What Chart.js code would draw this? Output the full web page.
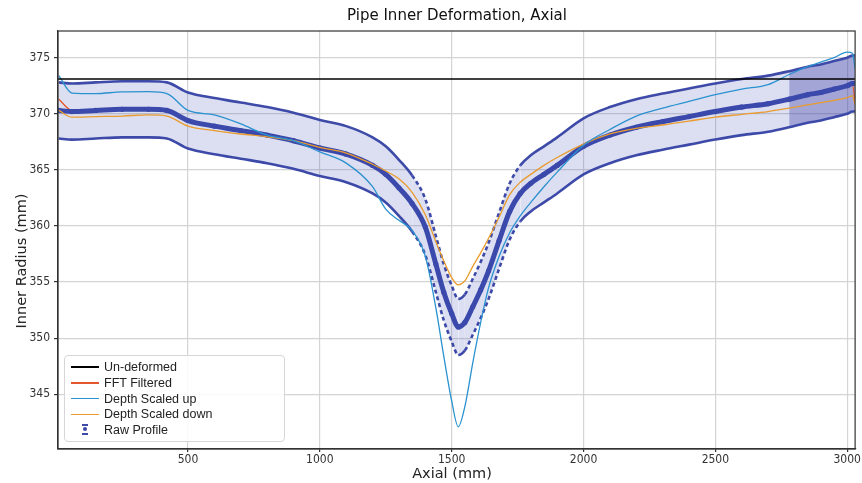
<!DOCTYPE html>
<html>
<head>
<meta charset="utf-8">
<script src="https://cdn.jsdelivr.net/npm/chart.js@4.4.1/dist/chart.umd.min.js"></script>
<style>
  html, body { margin: 0; padding: 0; background: #fff; }
  #wrap { position: relative; width: 862px; height: 483px; }
  #title { position: absolute; left: 58px; width: 798px; top: 6px; text-align: center;
           font: 15px "DejaVu Sans", sans-serif; color: #111; }
  .axt { position: absolute; font: 14.5px "DejaVu Sans", sans-serif; color: #222; white-space: nowrap; }
  #xt { left: 352px; width: 200px; top: 465px; text-align: center; line-height: 17px; }
  #yt { left: -79px; width: 200px; top: 253px; text-align: center; transform: rotate(-90deg); }
  #legend { position: absolute; left: 64px; top: 355px; width: 219px; height: 85px;
            border: 1px solid #d6d6d6; border-radius: 4px; background: rgba(255,255,255,0.85);
            font: 12.5px "Liberation Sans", Arial, sans-serif; color: #222; }
  .item { position: absolute; left: 6px; height: 16px; line-height: 16px; }
  .ln { position: absolute; left: 0; width: 28px; }
  .txt { position: absolute; left: 33px; top: 0; white-space: nowrap; }
  .eb { position: absolute; left: 11px; top: 0; width: 6px; height: 16px; }
  .eb i { position: absolute; display: block; }
</style>
</head>
<body>
<div id="wrap">
  <canvas id="chart" width="862" height="483"></canvas>
  <div id="title">Pipe Inner Deformation, Axial</div>
  <div id="xt" class="axt">Axial (mm)</div>
  <div id="yt" class="axt">Inner Radius (mm)</div>
  <div id="legend"></div>
</div>
<script>
// values (mm)
const axial = [10, 60, 150, 250, 350, 420, 500, 600, 700, 800, 900, 1000, 1100, 1200, 1250, 1300, 1350,
  1400, 1440, 1470, 1500, 1525, 1550, 1580, 1610, 1640, 1680, 1720, 1760, 1800, 1850, 1900, 2000,
  2100, 2200, 2300, 2400, 2500, 2600, 2700, 2780, 2850, 2900, 2950, 3000, 3020, 3030];

const rawProfile = [370.3, 370.2, 370.3, 370.4, 370.4, 370.3, 369.4, 368.9, 368.5, 368.1, 367.6, 366.95, 366.4,
  365.4, 364.6, 363.4, 362.0, 359.9, 356.6, 354.1, 352.2, 351.0, 351.4, 352.8, 354.3, 356.0, 358.7,
  361.3, 362.9, 363.8, 364.6, 365.4, 367.1, 368.1, 368.8, 369.3, 369.75, 370.2, 370.6, 370.9, 371.3,
  371.7, 371.9, 372.2, 372.5, 372.7, 372.7];

const fftFiltered = [371.3, 370.3, 370.3, 370.4, 370.4, 370.3, 369.4, 368.9, 368.5, 368.1, 367.6, 366.95, 366.4,
  365.4, 364.6, 363.4, 362.0, 359.9, 356.6, 354.1, 352.2, 350.9, 351.4, 352.8, 354.3, 356.0, 358.7,
  361.2, 362.8, 363.8, 364.6, 365.4, 367.1, 368.1, 368.8, 369.3, 369.75, 370.2, 370.6, 370.9, 371.3,
  371.7, 371.9, 372.2, 372.5, 372.6, 371.0];

const depthUp = [373.4, 371.85, 371.8, 371.95, 371.97, 371.8, 370.3, 369.9, 369.1, 368.1, 367.6, 366.6, 365.6,
  363.5, 361.5, 360.5, 359.6, 357.3, 352.7, 348.4, 344.4, 342.1, 343.9, 347.8, 351.4, 354.5, 357.3,
  359.4, 360.9, 362.1, 363.5, 364.8, 367.2, 368.6, 369.8, 370.5, 371.1, 371.7, 372.2, 372.6, 373.5,
  374.2, 374.6, 375.0, 375.5, 375.4, 374.0];

const depthDown = [370.3, 369.7, 369.75, 369.8, 369.9, 369.8, 368.9, 368.5, 368.2, 367.95, 367.6, 367.0, 366.5,
  365.5, 364.9, 364.2, 363.0, 361.0, 358.6, 356.9, 355.4, 354.75, 355.1, 356.4, 357.6, 358.9, 360.8,
  362.8, 363.9, 364.6, 365.4, 366.1, 367.3, 368.2, 368.7, 369.0, 369.35, 369.7, 369.95, 370.2, 370.5,
  370.8, 371.0, 371.2, 371.45, 371.6, 370.8];

const undeformedRadius = 373.1;
const errHalf = 2.5;          // error bar half-height of the raw profile
const denseFrom = 2780;       // darker error-bar region on the right
const xTicks = [500, 1000, 1500, 2000, 2500, 3000];
const yTicks = [345, 350, 355, 360, 365, 370, 375];
const xRange = [7, 3030];
const yRange = [340.12, 377.38];

const pts = arr => axial.map((x, i) => ({ x, y: arr[i] }));
const upperCap = rawProfile.map(v => v + errHalf);
const lowerCap = rawProfile.map(v => v - errHalf);
const densePts = arr => pts(arr).filter(p => p.x >= denseFrom);

const C_RAW = '#3a49ab', C_CAP = '#3d4aa8';
const C_FFT = '#e4572e', C_UP = '#2b92d0', C_DOWN = '#e99b2e';
const TICK_FONT = '"DejaVu Sans Condensed", "DejaVu Sans", sans-serif';

const steep = ctx => {
  const s = Math.abs(ctx.p1.parsed.y - ctx.p0.parsed.y) / (ctx.p1.parsed.x - ctx.p0.parsed.x);
  return s > 0.035 ? [4, 3] : undefined;
};

const line = (label, data, color, width, order, extra) => Object.assign({
  label, data, borderColor: color, borderWidth: width, order,
  pointRadius: 0, fill: false, cubicInterpolationMode: 'monotone'
}, extra || {});

const frame = {
  id: 'frame',
  afterDraw(chart) {
    const { ctx, chartArea: a } = chart;
    ctx.save();
    ctx.strokeStyle = '#333';
    ctx.lineWidth = 1.2;
    ctx.strokeRect(a.left, a.top, a.right - a.left, a.bottom - a.top);
    ctx.restore();
  }
};

Chart.defaults.font.family = '"DejaVu Sans", sans-serif';

new Chart(document.getElementById('chart'), {
  type: 'line',
  data: {
    datasets: [
      line('Un-deformed', [{ x: xRange[0], y: undeformedRadius }, { x: xRange[1], y: undeformedRadius }], '#000', 1.7, 0),
      line('Depth Scaled up', pts(depthUp), C_UP, 1.3, 1),
      line('Depth Scaled down', pts(depthDown), C_DOWN, 1.3, 2),
      line('Raw Profile', pts(rawProfile), C_RAW, 5, 3, { pointRadius: 2.6, pointBackgroundColor: C_RAW, pointBorderWidth: 0 }),
      line('FFT Filtered', pts(fftFiltered), C_FFT, 1.3, 4),
      line('cap+', pts(upperCap), C_CAP, 2.6, 5, { fill: '+1', backgroundColor: 'rgba(63,72,180,0.18)', segment: { borderDash: steep } }),
      line('cap-', pts(lowerCap), C_CAP, 2.6, 6, { segment: { borderDash: steep } }),
      line('dense+', densePts(upperCap), 'transparent', 0, 7, { fill: '+1', backgroundColor: 'rgba(70,70,170,0.38)' }),
      line('dense-', densePts(lowerCap), 'transparent', 0, 8)
    ]
  },
  options: {
    responsive: false,
    animation: false,
    events: [],
    layout: { padding: { top: 31, right: 6, left: 0, bottom: 0 } },
    plugins: { legend: { display: false }, title: { display: false }, tooltip: { enabled: false } },
    scales: {
      x: {
        type: 'linear', min: xRange[0], max: xRange[1],
        afterBuildTicks: s => { s.ticks = xTicks.map(v => ({ value: v })); },
        afterFit: s => { s.height = 34; },
        ticks: { color: '#333', font: { size: 12, family: TICK_FONT }, padding: 1, maxRotation: 0,
                 callback: v => String(v) },
        grid: { color: '#d4d4d4', lineWidth: 1.2, tickLength: 3, tickColor: '#333' },
        border: { color: '#333', width: 1.2 }
      },
      y: {
        min: yRange[0], max: yRange[1],
        afterBuildTicks: s => { s.ticks = yTicks.map(v => ({ value: v })); },
        afterFit: s => { s.width = 58; },
        ticks: { color: '#333', font: { size: 12, family: TICK_FONT }, padding: 4, callback: v => String(v) },
        grid: { color: '#d4d4d4', lineWidth: 1.2, tickLength: 4, tickColor: '#333' },
        border: { color: '#333', width: 1.2 }
      }
    }
  },
  plugins: [frame]
});

// legend (inside the plot, lower left)
const legendItems = [
  { label: 'Un-deformed', color: '#000', w: 2 },
  { label: 'FFT Filtered', color: C_FFT, w: 1.6 },
  { label: 'Depth Scaled up', color: C_UP, w: 1.6 },
  { label: 'Depth Scaled down', color: C_DOWN, w: 1.6 },
  { label: 'Raw Profile', errbar: true }
];
const lg = document.getElementById('legend');
legendItems.forEach((it, i) => {
  const row = document.createElement('div');
  row.className = 'item';
  row.style.top = (3 + i * 15.8) + 'px';
  if (it.errbar) {
    row.innerHTML = '<span class="eb">' +
      '<i style="left:0;top:2px;width:6px;height:2px;background:' + C_CAP + '"></i>' +
      '<i style="left:1px;top:5px;width:4px;height:4px;border-radius:2px;background:' + C_RAW + '"></i>' +
      '<i style="left:0;top:11px;width:6px;height:2px;background:' + C_CAP + '"></i></span>';
  } else {
    row.innerHTML = '<span class="ln" style="top:' + (8 - it.w / 2) + 'px;height:' + it.w + 'px;background:' + it.color + '"></span>';
  }
  row.innerHTML += '<span class="txt">' + it.label + '</span>';
  lg.appendChild(row);
});
</script>
</body>
</html>
